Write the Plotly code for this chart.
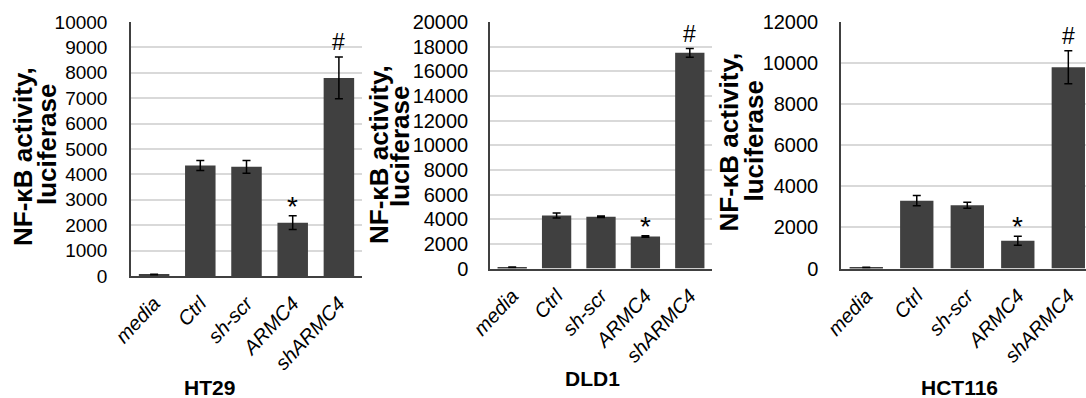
import plotly.graph_objects as go

# Treatment groups shared by all three cell lines
categories = ["media", "Ctrl", "sh-scr", "ARMC4", "shARMC4"]
cell_lines = ["HT29", "DLD1", "HCT116"]

# NF-κB luciferase readings (mean and error) per cell line
ht29_mean = [60, 4350, 4300, 2100, 7800]
ht29_err = [10, 200, 250, 270, 820]
dld1_mean = [100, 4300, 4200, 2600, 17500]
dld1_err = [20, 200, 60, 60, 350]
hct116_mean = [50, 3300, 3080, 1350, 9800]
hct116_err = [10, 250, 150, 220, 800]

# Significance marks drawn above each bar
marks = ["", "", "", "*", "#"]

# Axis scales
y_max = [10000, 20000, 12000]
y_dtick = [1000, 2000, 2000]

W, H = 1086, 398
BAR = "#404040"
GRID = "#d9d9d9"
SANS = "Liberation Sans, Arial"

means = [ht29_mean, dld1_mean, hct116_mean]
errs = [ht29_err, dld1_err, hct116_err]

# panel geometry in pixels: left, right, top, bottom, x upper limit
panels = [
    dict(x0=131, x1=362, top=22, bot=276, xmax=4.5, tick=19, standoff=18,
         title=(209, 387), ytitle=((23, 157), (47, 145))),
    dict(x0=490, x1=712, top=22, bot=268.5, xmax=4.5, tick=20, standoff=16,
         title=(592, 378), ytitle=((379, 155), (400, 147))),
    dict(x0=841, x1=1086, top=22, bot=268.5, xmax=4.35, tick=20, standoff=17,
         title=(959, 387), ytitle=((728.5, 142), (753.5, 141))),
]

fig = go.Figure()
annotations = []

for i, p in enumerate(panels):
    n = "" if i == 0 else str(i + 1)
    xa, ya = "x" + n, "y" + n
    fig.add_trace(go.Bar(
        x=categories, y=means[i], xaxis=xa, yaxis=ya,
        marker=dict(color=BAR, line=dict(width=0)),
        error_y=dict(type="data", array=errs[i], color="black",
                     thickness=1.5, width=4),
        showlegend=False,
    ))
    fig.update_layout(**{
        "xaxis" + n: dict(
            domain=[p["x0"] / W, p["x1"] / W], anchor=ya, automargin=False,
            range=[-0.5, p["xmax"]], type="category",
            showline=True, linecolor="#404040", linewidth=1.5,
            showgrid=False, ticks="", tickangle=-47,
            tickfont=dict(family=SANS, size=20, color="black", style="italic"),
            ticklabelstandoff=6,
        ),
        "yaxis" + n: dict(
            domain=[1 - p["bot"] / H, 1 - p["top"] / H], anchor=xa,
            automargin=False,
            range=[0, y_max[i]], dtick=y_dtick[i], tick0=0, tickformat="d",
            showline=True, linecolor="#404040", linewidth=1.5,
            showgrid=True, gridcolor=GRID, gridwidth=1.5,
            zeroline=False, ticks="",
            tickfont=dict(family=SANS, size=p["tick"], color="black"),
            ticklabelstandoff=p["standoff"],
        ),
    })
    # significance marks
    for c, m, v, e in zip(categories, marks, means[i], errs[i]):
        if not m:
            continue
        annotations.append(dict(
            x=c, y=v + e, xref=xa, yref=ya, text=m, showarrow=False,
            xanchor="center", yanchor="bottom",
            yshift=0 if m == "#" else -8,
            font=dict(family=SANS, size=23 if m == "#" else 28, color="black"),
        ))
    # cell-line title below the axis
    tx, ty = p["title"]
    annotations.append(dict(
        x=tx / W, y=1 - ty / H, xref="paper", yref="paper",
        text="<b>%s</b>" % cell_lines[i], showarrow=False,
        xanchor="center", yanchor="middle",
        font=dict(family=SANS, size=21, color="black"),
    ))
    # two-line rotated y title
    for (lx, ly), line in zip(p["ytitle"], ["NF-κB activity,", "luciferase"]):
        annotations.append(dict(
            x=lx / W, y=1 - ly / H, xref="paper", yref="paper",
            text="<b>%s</b>" % line, showarrow=False, textangle=-90,
            xanchor="center", yanchor="middle",
            font=dict(family=SANS, size=26, color="black"),
        ))

fig.update_layout(
    template="none",
    width=W, height=H, margin=dict(l=0, r=0, t=0, b=0, pad=0),
    paper_bgcolor="white", plot_bgcolor="white",
    bargap=0.34, annotations=annotations,
)

fig.write_html("out.html")
